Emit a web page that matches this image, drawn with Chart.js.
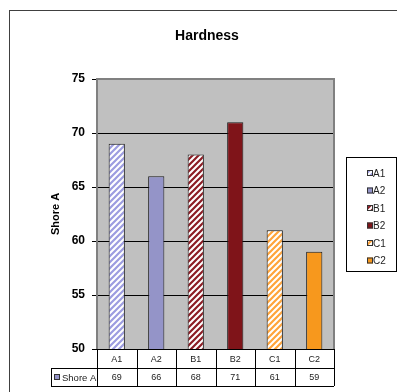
<!DOCTYPE html>
<html>
<head>
<meta charset="utf-8">
<script src="https://cdn.jsdelivr.net/npm/chart.js@4.4.1/dist/chart.umd.min.js"></script>
<style>
  html, body { margin: 0; padding: 0; background: #fff; }
  #wrap { width: 397px; height: 392px; position: relative; }
</style>
</head>
<body>
<div id="wrap"><canvas id="c"></canvas></div>
<script>
// Hardness measurements (Shore A) per sample
const categories = ['A1', 'A2', 'B1', 'B2', 'C1', 'C2'];
const shoreA = [69, 66, 68, 71, 61, 59];
const seriesName = 'Shore A';
const yTicks = [50, 55, 60, 65, 70, 75];
const chartTitle = 'Hardness';

// Diagonal hatch fill used for the "1" samples
function hatch(color) {
  const t = document.createElement('canvas');
  t.width = 6; t.height = 6;
  const g = t.getContext('2d');
  g.fillStyle = '#ffffff';
  g.fillRect(0, 0, 6, 6);
  g.strokeStyle = color;
  g.lineWidth = 2.2;
  g.beginPath();
  g.moveTo(0, 6); g.lineTo(6, 0);
  g.moveTo(-3, 3); g.lineTo(3, -3);
  g.moveTo(3, 9); g.lineTo(9, 3);
  g.stroke();
  return g.createPattern(t, 'repeat');
}

const fills = [
  hatch('#9c9ce0'),
  '#9494c8',
  hatch('#8c1c24'),
  '#7f1419',
  hatch('#ffa43a'),
  '#f7981d'
];

const FONT = 'Arial, "Liberation Sans", sans-serif';

const decor = {
  id: 'decor',
  beforeDraw(chart) {
    const { ctx, chartArea: a } = chart;
    ctx.save();
    ctx.fillStyle = '#ffffff';
    ctx.fillRect(0, 0, chart.width, chart.height);
    ctx.fillStyle = '#c0c0c0';
    ctx.fillRect(a.left, a.top, a.right - a.left, a.bottom - a.top);
    ctx.restore();
  },
  afterDraw(chart) {
    const { ctx, chartArea: a } = chart;
    const x = chart.scales.x;
    ctx.save();

    // outer chart frame
    ctx.strokeStyle = '#404040';
    ctx.lineWidth = 1;
    ctx.strokeRect(9.5, 10.5, 500, 500);

    // plot frame
    ctx.strokeStyle = '#808080';
    ctx.lineWidth = 2;
    ctx.beginPath();
    ctx.moveTo(a.left, a.bottom);
    ctx.lineTo(a.left, a.top);
    ctx.lineTo(a.right, a.top);
    ctx.lineTo(a.right, a.bottom);
    ctx.stroke();

    // title
    ctx.fillStyle = '#000';
    ctx.font = 'bold 14px ' + FONT;
    ctx.textAlign = 'center';
    ctx.textBaseline = 'middle';
    ctx.fillText(chartTitle, 207, 36);

    // y axis title
    ctx.save();
    ctx.translate(56, (a.top + a.bottom) / 2);
    ctx.rotate(-Math.PI / 2);
    ctx.font = 'bold 11px ' + FONT;
    ctx.fillText(seriesName, 0, 0);
    ctx.restore();

    // data table
    const step = (a.right - a.left) / categories.length;
    const r0 = a.bottom, r1 = a.bottom + 19, r2 = a.bottom + 37;
    const keyLeft = 51;
    ctx.strokeStyle = '#000';
    ctx.lineWidth = 1;
    ctx.beginPath();
    ctx.moveTo(a.left, r0 + 0.5); ctx.lineTo(a.right, r0 + 0.5);
    ctx.moveTo(keyLeft, r1 + 0.5); ctx.lineTo(a.right, r1 + 0.5);
    ctx.moveTo(keyLeft, r2 + 0.5); ctx.lineTo(a.right, r2 + 0.5);
    ctx.moveTo(keyLeft + 0.5, r1); ctx.lineTo(keyLeft + 0.5, r2);
    for (let i = 0; i <= categories.length; i++) {
      const px = Math.round(a.left + i * step) + 0.5;
      ctx.moveTo(px, r0); ctx.lineTo(px, r2);
    }
    ctx.stroke();

    ctx.font = '9px ' + FONT;
    ctx.fillStyle = '#222';
    ctx.textAlign = 'center';
    categories.forEach((c, i) => {
      const cx = x.getPixelForValue(i);
      ctx.fillText(c, cx, (r0 + r1) / 2 + 1);
      ctx.fillText(String(shoreA[i]), cx, (r1 + r2) / 2 + 1);
    });
    // series key in table
    ctx.fillStyle = '#9494c8';
    ctx.fillRect(54, (r1 + r2) / 2 - 3, 6, 6);
    ctx.strokeStyle = '#333';
    ctx.strokeRect(54.5, (r1 + r2) / 2 - 2.5, 5, 5);
    ctx.fillStyle = '#222';
    ctx.textAlign = 'left';
    ctx.font = '9.5px ' + FONT;
    ctx.fillText(seriesName, 62, (r1 + r2) / 2 + 1);

    // legend
    ctx.strokeStyle = '#000';
    ctx.lineWidth = 1;
    ctx.strokeRect(346.5, 157.5, 50, 114);
    ctx.font = '10px ' + FONT;
    categories.forEach((c, i) => {
      const ly = 173 + i * 17.5;
      ctx.fillStyle = fills[i];
      ctx.fillRect(367, ly - 3, 6, 6);
      ctx.strokeStyle = '#333';
      ctx.strokeRect(367.5, ly - 2.5, 5, 5);
      ctx.fillStyle = '#222';
      ctx.fillText(c, 373, ly + 1);
    });

    ctx.restore();
  }
};

new Chart(document.getElementById('c'), {
  type: 'bar',
  data: {
    labels: categories,
    datasets: [{
      label: seriesName,
      data: shoreA,
      backgroundColor: fills,
      borderColor: '#1a1a1a',
      borderWidth: 1,
      borderSkipped: 'bottom',
      barPercentage: 0.41,
      categoryPercentage: 1
    }]
  },
  options: {
    responsive: true,
    maintainAspectRatio: false,
    animation: false,
    devicePixelRatio: 1,
    layout: { padding: { left: 0, top: 79, right: 63, bottom: 0 } },
    plugins: { legend: { display: false }, title: { display: false }, tooltip: { enabled: false } },
    scales: {
      x: {
        afterFit(s) { s.height = 43; },
        ticks: { display: false },
        grid: { display: false },
        border: { display: false }
      },
      y: {
        min: 50, max: 75,
        afterFit(s) { s.width = 97; },
        afterBuildTicks(s) { s.ticks = yTicks.map(v => ({ value: v })); },
        ticks: {
          color: '#000',
          padding: 7,
          font: { family: FONT, size: 12, weight: 'bold' }
        },
        grid: { color: '#000', lineWidth: 1, tickLength: 5 },
        border: { display: false }
      }
    }
  },
  plugins: [decor]
});
</script>
</body>
</html>
